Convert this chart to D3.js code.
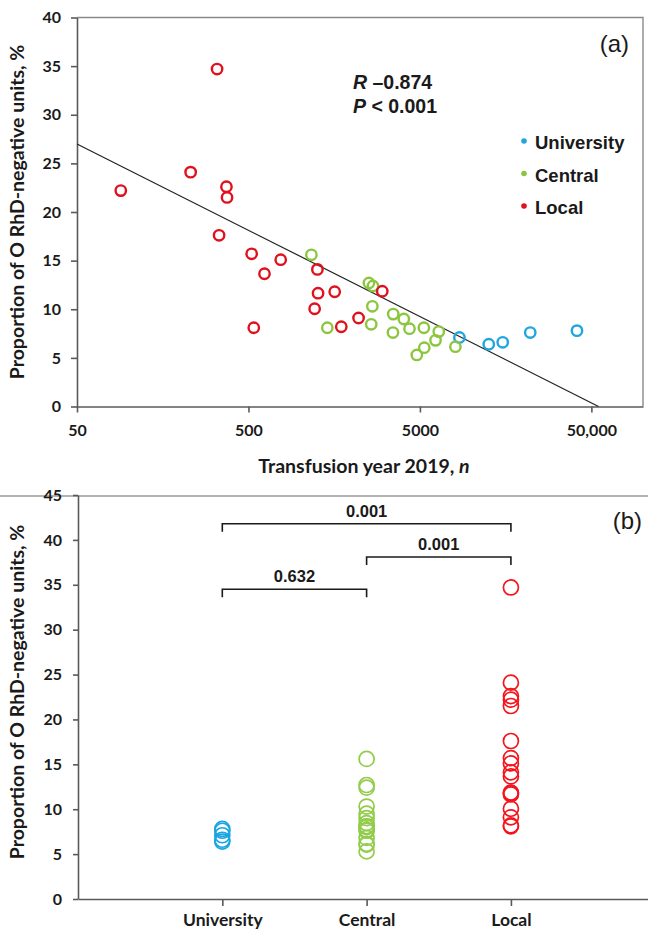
<!DOCTYPE html>
<html>
<head>
<meta charset="utf-8">
<script src="https://cdn.jsdelivr.net/npm/d3@7"></script>
<style>
  html, body { margin: 0; padding: 0; background: #fff; }
  svg { display: block; }
</style>
</head>
<body>
<svg id="chart" width="648" height="931"></svg>
<script>
// Hospital groups
const categories = ["University", "Central", "Local"];

// Transfusions in 2019 (n) and proportion of O RhD-negative units (%) per hospital
const universityN   = [8500, 12600, 15200, 22000, 41200];
const universityPct = [7.1, 6.4, 6.6, 7.6, 7.8];

const centralN   = [1164, 2520, 2660, 2640, 2600, 1442, 3494, 4027, 4346, 3480, 5270, 6440, 6165, 5300, 4796, 8053];
const centralPct = [15.6, 12.7, 12.4, 10.3, 8.45, 8.1, 9.5, 9.0, 8.0, 7.6, 8.1, 7.7, 6.8, 6.05, 5.3, 6.15];

const localN   = [328, 90, 230, 372, 375, 337, 522, 771, 620, 537, 1262, 1273, 1592, 1216, 1739, 2193, 3015];
const localPct = [34.7, 22.2, 24.1, 22.6, 21.5, 17.6, 15.7, 15.1, 13.65, 8.1, 14.1, 11.65, 11.8, 10.05, 8.2, 9.1, 11.85];

// Log-linear regression line end points (n, %)
const fitN   = [50, 55000];
const fitPct = [27.0, 0];

// Axis ticks
const xTicksA = [50, 500, 5000, 50000];
const xTickLabelsA = ["50", "500", "5000", "50,000"];
const yTicksA = [0, 5, 10, 15, 20, 25, 30, 35, 40];
const yTicksB = [0, 5, 10, 15, 20, 25, 30, 35, 40, 45];

// Pairwise comparisons (P values)
const compFrom = ["University", "Central", "University"];
const compTo   = ["Local", "Local", "Central"];
const compP    = ["0.001", "0.001", "0.632"];

const colors  = { University: "#1fa6df", Central: "#8cc63f", Local: "#e0101c" };
const colorsB = { University: "#1aa5e3", Central: "#92cc4a", Local: "#f5141c" };

const groups = [
  { name: "University", n: universityN, pct: universityPct },
  { name: "Central",    n: centralN,    pct: centralPct },
  { name: "Local",      n: localN,      pct: localPct }
];

const svg = d3.select("#chart");
const tickFont = "Lato, 'Open Sans', sans-serif";
const arialFont = "'Liberation Sans', Arial, sans-serif";
const axisColor = "#5a5a5a";

function styleAxis(g, size) {
  g.select(".domain").attr("stroke", axisColor).attr("stroke-width", 1.6);
  g.selectAll(".tick line").attr("stroke", axisColor).attr("stroke-width", 1.6);
  g.selectAll(".tick text")
    .attr("fill", "#1a1a1a")
    .style("font-family", tickFont)
    .style("font-weight", "700")
    .style("font-size", (size || 16) + "px");
}

// ---------- Panel (a): scatter on log axis ----------
const xA = d3.scaleLog().domain([50, 100000]).range([77, 643]);
const yA = d3.scaleLinear().domain([0, 40]).range([406.5, 17.5]);

// plot frame (top and right)
svg.append("path")
  .attr("d", `M${xA.range()[0]},${yA(40)}H${xA.range()[1]}V${yA(0)}`)
  .attr("fill", "none").attr("stroke", "#8a8a8a").attr("stroke-width", 1.4);

const gxA = svg.append("g").attr("transform", `translate(0,${yA(0)})`)
  .call(d3.axisBottom(xA).tickValues(xTicksA)
    .tickFormat((d, i) => xTickLabelsA[i]).tickSize(6).tickPadding(12).tickSizeOuter(0));
styleAxis(gxA);

const gyA = svg.append("g").attr("transform", `translate(${xA.range()[0]},0)`)
  .call(d3.axisLeft(yA).tickValues(yTicksA).tickSize(6).tickPadding(10).tickSizeOuter(0));
styleAxis(gyA);

// regression line
svg.append("line")
  .attr("x1", xA(fitN[0])).attr("y1", yA(fitPct[0]))
  .attr("x2", xA(fitN[1])).attr("y2", yA(fitPct[1]))
  .attr("stroke", "#222").attr("stroke-width", 1.2);

// points
groups.forEach(g => {
  svg.append("g").selectAll("circle")
    .data(g.n.map((n, i) => ({ n, p: g.pct[i] })))
    .join("circle")
    .attr("cx", d => xA(d.n)).attr("cy", d => yA(d.p)).attr("r", 5.2)
    .attr("fill", "none").attr("stroke", colors[g.name]).attr("stroke-width", 2.4);
});

// axis titles
svg.append("text")
  .attr("transform", `translate(24,${(yA(0) + yA(40)) / 2}) rotate(-90)`)
  .attr("text-anchor", "middle")
  .style("font-family", tickFont).style("font-weight", "700").style("font-size", "19.5px")
  .attr("fill", "#1a1a1a")
  .text("Proportion of O RhD-negative units, %");

const xtA = svg.append("text")
  .attr("x", 364).attr("y", 473).attr("text-anchor", "middle")
  .style("font-family", tickFont).style("font-weight", "700").style("font-size", "19.5px")
  .attr("fill", "#1a1a1a");
xtA.append("tspan").text("Transfusion year 2019, ");
xtA.append("tspan").style("font-style", "italic").text("n");

// correlation annotation
const rTxt = svg.append("text").attr("x", 353).attr("y", 89)
  .style("font-family", arialFont).style("font-weight", "700").style("font-size", "19.5px").attr("fill", "#1a1a1a");
rTxt.append("tspan").style("font-style", "italic").text("R");
rTxt.append("tspan").text(" \u20130.874");
const pTxt = svg.append("text").attr("x", 353).attr("y", 113)
  .style("font-family", arialFont).style("font-weight", "700").style("font-size", "19.5px").attr("fill", "#1a1a1a");
pTxt.append("tspan").style("font-style", "italic").text("P");
pTxt.append("tspan").text(" < 0.001");

// legend
categories.forEach((c, i) => {
  const y = 142 + i * 32.5;
  svg.append("circle").attr("cx", 524).attr("cy", y - 1).attr("r", 2.8).attr("fill", colors[c]);
  svg.append("text").attr("x", 535).attr("y", y + 7)
    .style("font-family", arialFont).style("font-weight", "700").style("font-size", "18.5px")
    .attr("fill", "#1a1a1a").text(c);
});

svg.append("text").attr("x", 629).attr("y", 52).attr("text-anchor", "end")
  .style("font-family", arialFont).style("font-size", "24px").attr("fill", "#1a1a1a").text("(a)");

// panel separator
svg.append("line").attr("x1", 0).attr("x2", 648).attr("y1", 496).attr("y2", 496)
  .attr("stroke", "#9a9a9a").attr("stroke-width", 1.6);

// ---------- Panel (b): values by hospital group ----------
const xB = d3.scaleLinear().domain([0, 3.95]).range([78, 648]);
const yB = d3.scaleLinear().domain([0, 45]).range([899, 495]);
const catPos = c => xB(categories.indexOf(c) + 1);

const gxB = svg.append("g").attr("transform", `translate(0,${yB(0)})`)
  .call(d3.axisBottom(xB).tickValues([1, 2, 3])
    .tickFormat(d => categories[d - 1]).tickSize(7).tickPadding(8).tickSizeOuter(0));
styleAxis(gxB, 17.5);

const gyB = svg.append("g").attr("transform", `translate(${xB(0)},0)`)
  .call(d3.axisLeft(yB).tickValues(yTicksB).tickSize(5).tickPadding(11).tickSizeOuter(0));
styleAxis(gyB);

groups.forEach(g => {
  svg.append("g").selectAll("circle")
    .data(g.pct)
    .join("circle")
    .attr("cx", catPos(g.name)).attr("cy", d => yB(d)).attr("r", 7.5)
    .attr("fill", "none").attr("stroke", colorsB[g.name]).attr("stroke-width", 1.7);
});

svg.append("text")
  .attr("transform", `translate(24,692) rotate(-90)`)
  .attr("text-anchor", "middle")
  .style("font-family", tickFont).style("font-weight", "700").style("font-size", "19.5px")
  .attr("fill", "#1a1a1a")
  .text("Proportion of O RhD-negative units, %");

// significance brackets
const bracketLevels = [41.8, 38.1, 34.5];
compP.forEach((p, i) => {
  const x1 = catPos(compFrom[i]), x2 = catPos(compTo[i]);
  const y = yB(bracketLevels[i]);
  svg.append("path")
    .attr("d", `M${x1},${y + 8}V${y}H${x2}V${y + 8}`)
    .attr("fill", "none").attr("stroke", "#1a1a1a").attr("stroke-width", 1.6);
  svg.append("text").attr("x", (x1 + x2) / 2).attr("y", y - 7).attr("text-anchor", "middle")
    .style("font-family", arialFont).style("font-weight", "700").style("font-size", "16.5px")
    .attr("fill", "#1a1a1a").text(p);
});

svg.append("text").attr("x", 642).attr("y", 529).attr("text-anchor", "end")
  .style("font-family", arialFont).style("font-size", "24px").attr("fill", "#1a1a1a").text("(b)");
</script>
</body>
</html>
